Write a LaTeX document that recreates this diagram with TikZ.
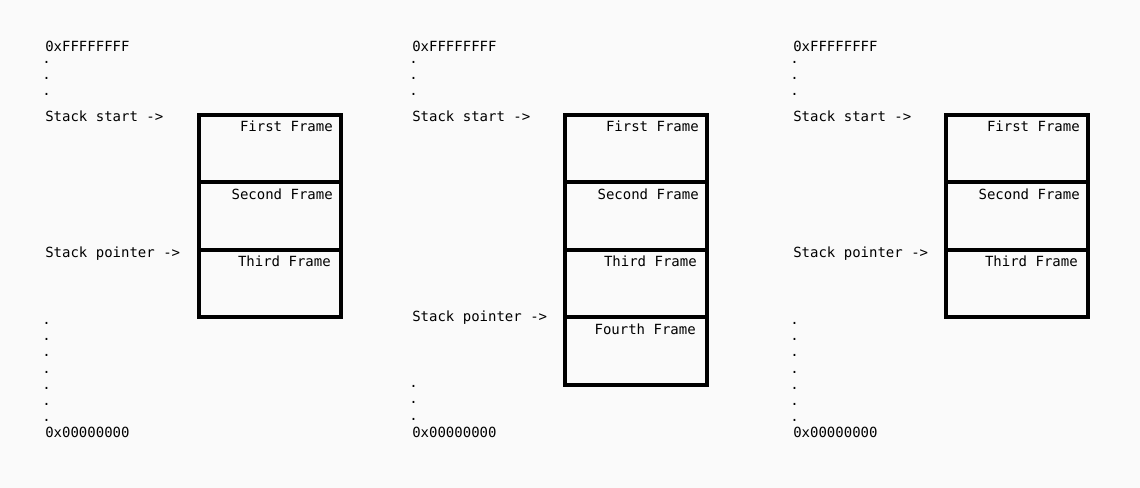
\documentclass[tikz,border=0pt]{standalone}
\usepackage{fontspec}
\setmonofont{DejaVu Sans Mono}
\usetikzlibrary{positioning}
\definecolor{bgcol}{RGB}{250,250,250}
\tikzset{
  frm/.style={draw, line width=3pt, minimum width=106.5pt, minimum height=50.6pt, inner sep=0pt, outer sep=0pt},
  txt/.style={font=\ttfamily\fontsize{10.5}{12}\selectfont, inner sep=0pt, anchor=base west},
  lbl/.style={txt, anchor=base east},
  pt/.style={txt, anchor=base},
}
\begin{document}
\begin{tikzpicture}[x=0.75pt, y=-0.75pt]
  \fill[bgcol] (0,0) rectangle (1140,488);
  \useasboundingbox (0,0) rectangle (1140,488);
  % first stack: three frames
  \begin{scope}
    \node[txt] (hia) at (45,52) {0xFFFFFFFF};
    \foreach \y [count=\i] in {63.5,80,96}
      \node[pt] (upa\i) at (46.5,\y) {.};
    \node[txt] (starta) at (45,121.7) {Stack start ->};
    \node[frm, anchor=north west] (a1) at (199,115) {};
    \node[frm, below=0pt of a1] (a2) {};
    \node[frm, below=0pt of a2] (a3) {};
    \node[lbl] (a1t) at ([shift={(-8,17)}]a1.north east) {First Frame};
    \node[lbl] (a2t) at ([shift={(-8,17)}]a2.north east) {Second Frame};
    \node[lbl] (a3t) at ([shift={(-10,17)}]a3.north east) {Third Frame};
    \node[txt] (spa) at (45,257.5) {Stack pointer ->};
    \foreach \y [count=\i] in {324.5,340.7,356.9,373.1,389.3,405.5,421.7}
      \node[pt] (dna\i) at (46.5,\y) {.};
    \node[txt] (loa) at (45,438) {0x00000000};
  \end{scope}
  % second stack: a fourth frame pushed
  \begin{scope}[shift={(367,0)}]
    \node[txt] (hib) at (45,52) {0xFFFFFFFF};
    \foreach \y [count=\i] in {63.5,80,96}
      \node[pt] (upb\i) at (46.5,\y) {.};
    \node[txt] (startb) at (45,121.7) {Stack start ->};
    \node[frm, anchor=north west] (b1) at (198,115) {};
    \node[frm, below=0pt of b1] (b2) {};
    \node[frm, below=0pt of b2] (b3) {};
    \node[frm, below=0pt of b3] (b4) {};
    \node[lbl] (b1t) at ([shift={(-8,17)}]b1.north east) {First Frame};
    \node[lbl] (b2t) at ([shift={(-8,17)}]b2.north east) {Second Frame};
    \node[lbl] (b3t) at ([shift={(-10,17)}]b3.north east) {Third Frame};
    \node[lbl] (b4t) at ([shift={(-11,17)}]b4.north east) {Fourth Frame};
    \node[txt] (spb) at (45,321.7) {Stack pointer ->};
    \foreach \y [count=\i] in {388,404,420.5}
      \node[pt] (dnb\i) at (46.5,\y) {.};
    \node[txt] (lob) at (45,438) {0x00000000};
  \end{scope}
  % third stack: fourth frame popped again
  \begin{scope}[shift={(748,0)}]
    \node[txt] (hic) at (45,52) {0xFFFFFFFF};
    \foreach \y [count=\i] in {63.5,80,96}
      \node[pt] (upc\i) at (46.5,\y) {.};
    \node[txt] (startc) at (45,121.7) {Stack start ->};
    \node[frm, anchor=north west] (c1) at (198,115) {};
    \node[frm, below=0pt of c1] (c2) {};
    \node[frm, below=0pt of c2] (c3) {};
    \node[lbl] (c1t) at ([shift={(-8,17)}]c1.north east) {First Frame};
    \node[lbl] (c2t) at ([shift={(-8,17)}]c2.north east) {Second Frame};
    \node[lbl] (c3t) at ([shift={(-10,17)}]c3.north east) {Third Frame};
    \node[txt] (spc) at (45,257.5) {Stack pointer ->};
    \foreach \y [count=\i] in {324.5,340.7,356.9,373.1,389.3,405.5,421.7}
      \node[pt] (dnc\i) at (46.5,\y) {.};
    \node[txt] (loc) at (45,438) {0x00000000};
  \end{scope}
\end{tikzpicture}
\end{document}
